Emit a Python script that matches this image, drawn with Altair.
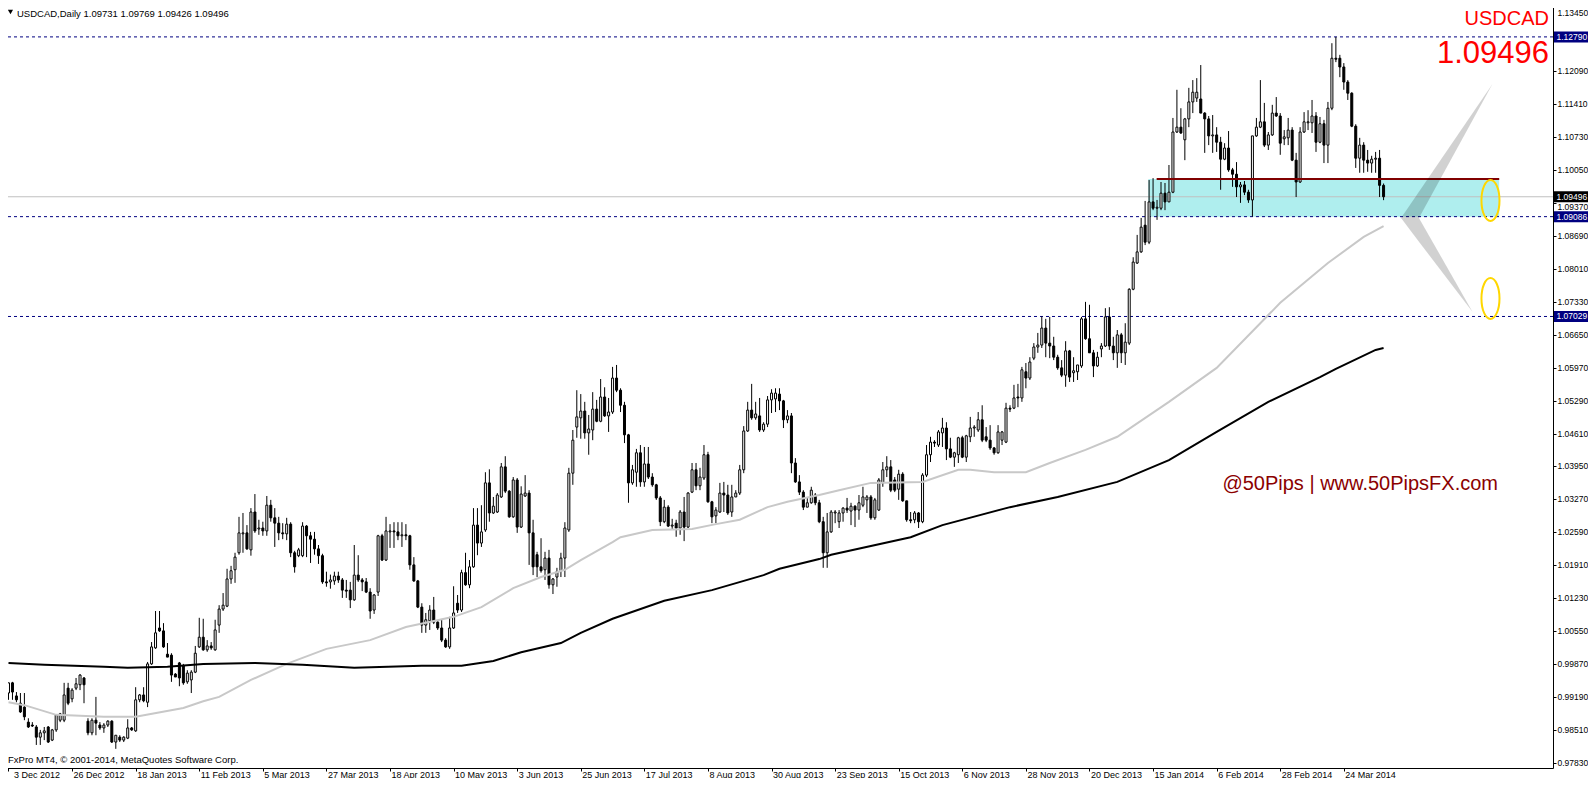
import altair as alt
import pandas as pd

# ---------------- data ----------------
OPEN = [
 .9927,.9948,.9921,.9906,.9898,.9867,.9861,.9857,.9836,.9845,
 .9857,.9830,.9851,.9871,.9871,.9937,.9915,.9937,.9944,.9958,
 .9869,.9845,.9871,.9861,.9855,.9861,.9869,.9826,.9836,.9830,
 .9834,.9855,.9849,.9913,.9923,.9908,.9987,1.0020,1.0061,1.0055,
 1.0007,1.0005,.9966,.9989,.9983,.9950,.9954,.9970,1.0022,1.0042,
 1.0016,1.0024,1.0016,1.0067,1.0100,1.0106,1.0162,1.0181,1.0216,1.0255,
 1.0257,1.0222,1.0300,1.0265,1.0267,1.0261,1.0314,1.0288,1.0277,1.0257,
 1.0255,1.0275,1.0216,1.0210,1.0210,1.0271,1.0251,1.0244,1.0224,1.0210,
 1.0156,1.0156,1.0158,1.0168,1.0160,1.0139,1.0139,1.0119,1.0170,1.0160,
 1.0156,1.0135,1.0098,1.0135,1.0251,1.0201,1.0259,1.0261,1.0259,1.0251,
 1.0253,1.0251,1.0191,1.0158,1.0104,1.0067,1.0076,1.0098,1.0073,1.0061,
 1.0036,1.0022,1.0061,1.0112,1.0098,1.0175,1.0150,1.0187,1.0273,1.0236,
 1.0263,1.0360,1.0298,1.0300,1.0331,1.0393,1.0343,1.0290,1.0366,1.0269,
 1.0333,1.0339,1.0257,1.0212,1.0187,1.0181,1.0205,1.0150,1.0166,1.0179,
 1.0205,1.0263,1.0380,1.0475,1.0494,1.0508,1.0463,1.0469,1.0512,1.0487,
 1.0537,1.0498,1.0506,1.0576,1.0551,1.0520,1.0459,1.0360,1.0382,1.0422,
 1.0362,1.0399,1.0372,1.0356,1.0329,1.0280,1.0310,1.0271,1.0277,1.0267,
 1.0300,1.0269,1.0341,1.0387,1.0354,1.0370,1.0418,1.0321,1.0292,1.0300,
 1.0339,1.0335,1.0300,1.0331,1.0339,1.0387,1.0467,1.0510,1.0494,1.0498,
 1.0469,1.0481,1.0531,1.0533,1.0543,1.0529,1.0490,1.0498,1.0401,1.0362,
 1.0341,1.0310,1.0319,1.0335,1.0319,1.0280,1.0216,1.0259,1.0298,1.0280,
 1.0298,1.0308,1.0302,1.0312,1.0304,1.0314,1.0325,1.0331,1.0288,1.0304,
 1.0360,1.0387,1.0393,1.0366,1.0347,1.0378,1.0323,1.0284,1.0284,1.0298,
 1.0280,1.0376,1.0418,1.0444,1.0438,1.0463,1.0473,1.0430,1.0413,1.0418,
 1.0453,1.0413,1.0455,1.0473,1.0469,1.0490,1.0455,1.0448,1.0432,1.0422,
 1.0448,1.0444,1.0514,1.0514,1.0537,1.0535,1.0589,1.0576,1.0617,1.0640,
 1.0644,1.0679,1.0648,1.0642,1.0619,1.0597,1.0582,1.0632,1.0587,1.0589,
 1.0601,1.0698,1.0657,1.0628,1.0601,1.0636,1.0642,1.0702,1.0642,1.0628,
 1.0665,1.0628,1.0648,1.0759,1.0813,1.0836,1.0891,1.0856,1.0939,1.0926,
 1.0926,1.0957,1.0939,1.0959,1.1083,1.1093,1.1067,1.1110,1.1145,1.1153,
 1.1151,1.1122,1.1110,1.1075,1.1077,1.1062,1.1027,1.1050,1.1005,1.0996,
 1.0970,1.0974,1.0959,1.0943,1.1075,1.1093,1.1104,1.1056,1.1077,1.1122,
 1.1116,1.1069,1.1071,1.1087,1.1025,1.0980,1.1083,1.1102,1.1102,1.1116,
 1.1062,1.1100,1.1056,1.1132,1.1235,1.1235,1.1217,1.1186,1.1163,1.1095,
 1.1029,1.1056,1.1025,1.1019,1.1027,1.1029,1.09731]
HIGH = [
 .9948,.9950,.9929,.9927,.9927,.9875,.9867,.9861,.9851,.9857,
 .9859,.9853,.9882,.9886,.9948,.9948,.9937,.9958,.9966,.9960,
 .9875,.9875,.9919,.9867,.9865,.9871,.9871,.9840,.9840,.9838,
 .9873,.9857,.9939,.9925,.9939,.9991,1.0032,1.0096,1.0096,1.0071,
 1.0030,1.0009,.9968,.9991,.9987,.9974,.9974,1.0024,1.0082,1.0080,
 1.0036,1.0032,1.0078,1.0108,1.0133,1.0183,1.0189,1.0216,1.0290,1.0298,
 1.0273,1.0308,1.0337,1.0284,1.0280,1.0333,1.0325,1.0308,1.0290,1.0277,
 1.0288,1.0279,1.0220,1.0226,1.0279,1.0273,1.0259,1.0259,1.0232,1.0214,
 1.0177,1.0171,1.0177,1.0177,1.0164,1.0160,1.0156,1.0232,1.0211,1.0164,
 1.0164,1.0143,1.0131,1.0253,1.0255,1.0290,1.0275,1.0279,1.0279,1.0279,
 1.0275,1.0253,1.0207,1.0160,1.0112,1.0092,1.0108,1.0125,1.0075,1.0078,
 1.0040,1.0084,1.0147,1.0129,1.0181,1.0216,1.0201,1.0308,1.0308,1.0314,
 1.0382,1.0388,1.0331,1.0339,1.0401,1.0415,1.0345,1.0372,1.0370,1.0353,
 1.0376,1.0345,1.0284,1.0218,1.0246,1.0218,1.0222,1.0164,1.0185,1.0216,
 1.0279,1.0391,1.0469,1.0551,1.0543,1.0527,1.0500,1.0547,1.0531,1.0574,
 1.0557,1.0535,1.0599,1.0603,1.0555,1.0527,1.0461,1.0397,1.0430,1.0438,
 1.0434,1.0434,1.0380,1.0358,1.0333,1.0325,1.0314,1.0286,1.0284,1.0304,
 1.0331,1.0341,1.0401,1.0401,1.0391,1.0438,1.0424,1.0323,1.0310,1.0360,
 1.0362,1.0356,1.0356,1.0345,1.0397,1.0477,1.0527,1.0564,1.0527,1.0535,
 1.0485,1.0539,1.0553,1.0555,1.0555,1.0531,1.0510,1.0504,1.0411,1.0376,
 1.0345,1.0331,1.0352,1.0339,1.0325,1.0290,1.0298,1.0304,1.0304,1.0304,
 1.0310,1.0329,1.0319,1.0314,1.0335,1.0352,1.0335,1.0335,1.0329,1.0370,
 1.0403,1.0415,1.0407,1.0372,1.0387,1.0382,1.0323,1.0300,1.0302,1.0300,
 1.0380,1.0438,1.0455,1.0448,1.0469,1.0494,1.0485,1.0453,1.0424,1.0455,
 1.0457,1.0459,1.0496,1.0479,1.0506,1.0520,1.0475,1.0479,1.0434,1.0479,
 1.0467,1.0525,1.0520,1.0562,1.0564,1.0599,1.0607,1.0619,1.0648,1.0669,
 1.0703,1.0698,1.0702,1.0661,1.0624,1.0613,1.0652,1.0634,1.0619,1.0603,
 1.0702,1.0733,1.0727,1.0634,1.0630,1.0648,1.0720,1.0722,1.0661,1.0675,
 1.0669,1.0689,1.0761,1.0825,1.0871,1.0906,1.0941,1.0984,1.0988,1.0943,
 1.0980,1.0978,1.1015,1.1112,1.1170,1.1132,1.1112,1.1174,1.1190,1.1194,
 1.1221,1.1124,1.1116,1.1118,1.1093,1.1073,1.1060,1.1085,1.1009,1.1021,
 1.0980,1.0982,1.0964,1.1075,1.1112,1.1190,1.1143,1.1083,1.1139,1.1155,
 1.1122,1.1087,1.1112,1.1093,1.1040,1.1093,1.1124,1.1128,1.1149,1.1124,
 1.1114,1.1108,1.1145,1.1266,1.1279,1.1242,1.1225,1.1190,1.1165,1.1099,
 1.1071,1.1062,1.1046,1.1034,1.1042,1.1046,1.09769]
LOW = [
 .9913,.9913,.9908,.9886,.9871,.9855,.9857,.9820,.9820,.9830,
 .9824,.9828,.9847,.9867,.9867,.9902,.9908,.9933,.9933,.9906,
 .9840,.9840,.9840,.9851,.9845,.9857,.9824,.9812,.9826,.9826,
 .9832,.9849,.9847,.9908,.9908,.9898,.9985,1.0018,1.0053,1.0020,
 1.0001,.9950,.9960,.9941,.9944,.9946,.9927,.9968,1.0020,1.0014,
 1.0012,1.0016,1.0014,1.0051,1.0096,1.0104,1.0152,1.0154,1.0212,1.0216,
 1.0222,1.0210,1.0257,1.0253,1.0251,1.0251,1.0280,1.0228,1.0242,1.0244,
 1.0242,1.0207,1.0175,1.0207,1.0207,1.0207,1.0195,1.0212,1.0193,1.0152,
 1.0146,1.0142,1.0150,1.0154,1.0123,1.0123,1.0102,1.0117,1.0156,1.0137,
 1.0133,1.0080,1.0090,1.0127,1.0199,1.0199,1.0226,1.0226,1.0242,1.0228,
 1.0242,1.0181,1.0156,1.0102,1.0051,1.0051,1.0057,1.0069,1.0057,1.0032,
 1.0020,1.0018,1.0059,1.0092,1.0094,1.0148,1.0143,1.0185,1.0211,1.0228,
 1.0259,1.0280,1.0296,1.0298,1.0329,1.0339,1.0288,1.0288,1.0257,1.0267,
 1.0331,1.0191,1.0170,1.0166,1.0175,1.0160,1.0142,1.0131,1.0146,1.0166,
 1.0166,1.0259,1.0356,1.0453,1.0451,1.0451,1.0418,1.0448,1.0485,1.0485,
 1.0496,1.0465,1.0502,1.0547,1.0506,1.0442,1.0319,1.0356,1.0352,1.0352,
 1.0352,1.0368,1.0352,1.0325,1.0271,1.0277,1.0269,1.0263,1.0249,1.0253,
 1.0240,1.0267,1.0339,1.0345,1.0345,1.0366,1.0319,1.0277,1.0277,1.0298,
 1.0300,1.0294,1.0290,1.0331,1.0335,1.0380,1.0465,1.0490,1.0490,1.0465,
 1.0465,1.0475,1.0504,1.0506,1.0510,1.0473,1.0483,1.0380,1.0360,1.0335,
 1.0304,1.0310,1.0317,1.0314,1.0277,1.0185,1.0185,1.0257,1.0277,1.0267,
 1.0280,1.0298,1.0273,1.0269,1.0284,1.0310,1.0298,1.0284,1.0284,1.0302,
 1.0352,1.0372,1.0341,1.0341,1.0325,1.0321,1.0280,1.0277,1.0277,1.0267,
 1.0277,1.0372,1.0403,1.0434,1.0434,1.0434,1.0407,1.0411,1.0393,1.0401,
 1.0411,1.0403,1.0444,1.0455,1.0465,1.0444,1.0444,1.0428,1.0418,1.0420,
 1.0438,1.0442,1.0506,1.0512,1.0516,1.0527,1.0555,1.0572,1.0613,1.0628,
 1.0638,1.0619,1.0617,1.0613,1.0593,1.0578,1.0558,1.0568,1.0568,1.0572,
 1.0597,1.0655,1.0628,1.0578,1.0599,1.0619,1.0640,1.0634,1.0613,1.0597,
 1.0607,1.0603,1.0644,1.0757,1.0811,1.0834,1.0850,1.0852,1.0922,1.0902,
 1.0922,1.0922,1.0939,1.0957,1.1081,1.1079,1.1025,1.1093,1.1122,1.1145,
 1.1122,1.1040,1.1056,1.1040,1.1042,1.0964,1.1025,1.1001,1.0970,1.0949,
 1.0937,1.0953,1.0937,1.09086,1.1073,1.1091,1.1052,1.1046,1.1075,1.1114,
 1.1036,1.1056,1.1056,1.1023,1.0949,1.0978,1.1081,1.1087,1.1081,1.1042,
 1.1060,1.1019,1.1019,1.1128,1.1227,1.1196,1.1170,1.1149,1.1093,1.1009,
 1.0999,1.0999,1.1001,1.0999,1.0999,1.0949,1.09426]
CLOSE = [
 .9948,.9929,.9913,.9888,.9878,.9857,.9859,.9836,.9845,.9849,
 .9826,.9851,.9882,.9884,.9923,.9906,.9933,.9946,.9964,.9944,
 .9845,.9871,.9865,.9855,.9861,.9869,.9826,.9840,.9830,.9836,
 .9855,.9851,.9913,.9923,.9911,.9987,1.0022,1.0051,1.0055,1.0022,
 1.0001,.9964,.9960,.9958,.9948,.9968,.9970,1.0009,1.0042,1.0016,
 1.0024,1.0020,1.0057,1.0100,1.0108,1.0162,1.0179,1.0207,1.0257,1.0257,
 1.0224,1.0300,1.0261,1.0267,1.0261,1.0314,1.0288,1.0277,1.0257,1.0255,
 1.0275,1.0216,1.0187,1.0222,1.0271,1.0251,1.0244,1.0224,1.0210,1.0156,
 1.0154,1.0160,1.0168,1.0160,1.0139,1.0137,1.0119,1.0170,1.0160,1.0156,
 1.0135,1.0096,1.0129,1.0251,1.0201,1.0261,1.0261,1.0259,1.0251,1.0253,
 1.0251,1.0191,1.0158,1.0104,1.0067,1.0078,1.0098,1.0073,1.0061,1.0036,
 1.0022,1.0061,1.0092,1.0098,1.0175,1.0150,1.0187,1.0273,1.0236,1.0259,
 1.0360,1.0298,1.0312,1.0335,1.0393,1.0343,1.0290,1.0366,1.0269,1.0337,
 1.0339,1.0257,1.0187,1.0187,1.0179,1.0205,1.0150,1.0162,1.0177,1.0205,
 1.0267,1.0380,1.0448,1.0496,1.0508,1.0463,1.0471,1.0512,1.0487,1.0537,
 1.0498,1.0506,1.0576,1.0551,1.0520,1.0459,1.0360,1.0387,1.0422,1.0362,
 1.0399,1.0372,1.0356,1.0329,1.0280,1.0310,1.0271,1.0273,1.0267,1.0300,
 1.0269,1.0339,1.0387,1.0354,1.0372,1.0418,1.0321,1.0290,1.0304,1.0339,
 1.0335,1.0298,1.0331,1.0339,1.0387,1.0467,1.0510,1.0494,1.0502,1.0469,
 1.0481,1.0531,1.0545,1.0545,1.0529,1.0490,1.0498,1.0401,1.0362,1.0341,
 1.0310,1.0319,1.0345,1.0319,1.0280,1.0216,1.0259,1.0300,1.0300,1.0298,
 1.0308,1.0304,1.0312,1.0304,1.0319,1.0331,1.0331,1.0288,1.0325,1.0366,
 1.0387,1.0393,1.0345,1.0345,1.0378,1.0323,1.0284,1.0282,1.0298,1.0280,
 1.0376,1.0418,1.0444,1.0442,1.0465,1.0473,1.0430,1.0413,1.0422,1.0453,
 1.0413,1.0457,1.0473,1.0475,1.0490,1.0448,1.0448,1.0432,1.0422,1.0465,
 1.0465,1.0514,1.0512,1.0535,1.0535,1.0593,1.0576,1.0609,1.0640,1.0644,
 1.0679,1.0648,1.0642,1.0619,1.0597,1.0582,1.0632,1.0578,1.0591,1.0603,
 1.0698,1.0657,1.0628,1.0601,1.0619,1.0642,1.0702,1.0642,1.0628,1.0665,
 1.0628,1.0650,1.0759,1.0815,1.0836,1.0887,1.0856,1.0939,1.0926,1.0928,
 1.0957,1.0939,1.0959,1.1083,1.1093,1.1081,1.1110,1.1145,1.1165,1.1165,
 1.1122,1.1110,1.1075,1.1077,1.1062,1.1027,1.1050,1.1005,1.0996,1.0970,
 1.0974,1.0959,1.0943,1.1075,1.1093,1.1104,1.1056,1.1077,1.1122,1.1116,
 1.1060,1.1073,1.1087,1.1025,1.0980,1.1083,1.1104,1.1104,1.1116,1.1062,
 1.1100,1.1056,1.1132,1.1235,1.1233,1.1217,1.1186,1.1163,1.1095,1.1029,
 1.1056,1.1025,1.1019,1.1027,1.1029,1.09731,1.09496]

# moving averages sampled along the drawn lines (bar index, price)
MA100_BAR = [0,4,12,24,32,44,49,53,61,70,80,91,100,112,119,127,134,140,144,152,154,
             162,172,178,184,191,196,204,209,217,230,239,242,248,256,262,271,279,292,
             304,320,332,341,346]
MA100_VAL = [.9908,.9902,.9882,.9878,.9878,.9896,.9910,.9919,.9954,.9987,1.0018,1.0036,
             1.0063,1.0084,1.0104,1.0143,1.0166,1.0181,1.0201,1.0238,1.0248,1.0263,1.0265,
             1.0275,1.0284,1.0310,1.0321,1.0335,1.0345,1.0360,1.0362,1.0387,1.0387,1.0382,
             1.0382,1.0401,1.0428,1.0455,1.0527,1.0597,1.0731,1.0813,1.0867,1.0889]
MA200_BAR = [0,9,24,30,40,49,62,74,87,104,114,122,129,139,144,152,165,177,190,194,204,
             207,227,235,252,264,279,292,304,317,330,334,344,346]
MA200_VAL = [.9989,.9985,.9981,.9979,.9981,.9987,.9989,.9985,.9979,.9983,.9983,.9993,
             1.0011,1.0030,1.0051,1.0080,1.0117,1.0139,1.0170,1.0183,1.0203,1.0212,1.0248,
             1.0273,1.0310,1.0331,1.0362,1.0407,1.0465,1.0527,1.0578,1.0595,1.0634,1.0638]

DATE_LABELS = ["3 Dec 2012", "26 Dec 2012", "18 Jan 2013", "11 Feb 2013", "5 Mar 2013",
               "27 Mar 2013", "18 Apr 2013", "10 May 2013", "3 Jun 2013", "25 Jun 2013",
               "17 Jul 2013", "8 Aug 2013", "30 Aug 2013", "23 Sep 2013", "15 Oct 2013",
               "6 Nov 2013", "28 Nov 2013", "20 Dec 2013", "15 Jan 2014", "6 Feb 2014",
               "28 Feb 2014", "24 Mar 2014"]
PRICE_TICKS = [1.1345, 1.1277, 1.1209, 1.1141, 1.1073, 1.1005, 1.0937, 1.0869, 1.0801,
               1.0733, 1.0665, 1.0597, 1.0529, 1.0461, 1.0395, 1.0327, 1.0259, 1.0191,
               1.0123, 1.0055, 0.9987, 0.9919, 0.9851, 0.9783]

LEVELS = [1.12790, 1.09086, 1.07029]     # dashed navy levels
CURRENT = 1.09496                         # last price
RESIST = 1.0986                           # dark red level / top of the zone
ZONE = [286.8, 375.1, 1.0986, 1.09086]    # bar from, bar to, price top, price bottom
RESIST_FROM = 288.9
UP_WING = {"x": [350.4, 354.9, 373.4], "top": [1.0906, 1.0960, 1.1182], "bot": [1.0906, 1.0906, 1.1182]}
DN_WING = {"x": [350.4, 354.9, 368.4], "top": [1.0906, 1.0906, 1.0712], "bot": [1.0906, 1.0857, 1.0712]}
TARGETS = {"x": [372.9, 372.9], "y": [1.0942, 1.0740]}

HEADER = "USDCAD,Daily  1.09731 1.09769 1.09426 1.09496"
FOOTER = "FxPro MT4, \u00a9 2001-2014, MetaQuotes Software Corp."

# ---------------- chart ----------------
n = len(CLOSE)
df = pd.DataFrame({"i": list(range(n)), "o": OPEN, "h": HIGH, "l": LOW, "c": CLOSE})

W, H = 1550, 766
xs = alt.Scale(domain=[-0.125, 387.375], nice=False, zero=False)
ys = alt.Scale(domain=[0.97725, 1.13509], nice=False, zero=False)
FONT = "Liberation Sans"

label_expr = "[" + ",".join("'%s'" % s for s in DATE_LABELS) + "][round(datum.value / 16)]"
x_axis = alt.Axis(values=[16 * k for k in range(len(DATE_LABELS))], labelExpr=label_expr,
                  orient="bottom", domainColor="black", domainWidth=1, tickColor="black",
                  tickSize=3, labelFont=FONT, labelFontSize=9, labelColor="black",
                  labelAlign="left", labelBaseline="top", labelPadding=-1,
                  labelOffset={"condition": {"test": "datum.value < 1", "value": 5}, "value": 1},
                  labelOverlap=False, labelFlush=False, labelBound=False, grid=False,
                  title=None)
y_axis = alt.Axis(orient="right", values=PRICE_TICKS, format=".5f", domainColor="black",
                  domainWidth=1, tickColor="black", tickSize=3, labelFont=FONT,
                  labelFontSize=8.5, labelColor="black", labelPadding=1,
                  labelOffset={"condition": [
                      {"test": "datum.value > 1.13", "value": 8},
                      {"test": "abs(datum.value - 1.0937) < 0.0001", "value": 4}],
                      "value": 0},
                  labelOverlap=False, labelFlush=False, labelBound=False, grid=False, title=None)


def X(field):
    return alt.X(field, scale=xs, axis=x_axis)


def Y(field):
    return alt.Y(field, scale=ys, axis=y_axis)


one = pd.DataFrame({"k": [0]})

zone = alt.Chart(pd.DataFrame({"x0": [ZONE[0]], "x1": [ZONE[1]], "y0": [ZONE[2]], "y1": [ZONE[3]]})).mark_rect(
    color="#AFEEEE", opacity=1).encode(x=X("x0:Q"), x2="x1:Q", y=Y("y0:Q"), y2="y1:Q")

cur_line = alt.Chart(pd.DataFrame({"p": [CURRENT]})).mark_rule(color="#C0C0C0", strokeWidth=1).encode(
    y=Y("p:Q"))

levels = alt.Chart(pd.DataFrame({"p": LEVELS})).mark_rule(
    color="#000080", strokeWidth=1, strokeDash=[3, 3]).encode(y=Y("p:Q"))

wicks = alt.Chart(df).mark_rule(color="black", strokeWidth=1).encode(
    x=X("i:Q"), y=Y("l:Q"), y2="h:Q")

bodies = alt.Chart(df).mark_bar(width=2, stroke="black", strokeWidth=1, opacity=1).encode(
    x=X("i:Q"), y=Y("o:Q"), y2="c:Q",
    fill=alt.condition("datum.c > datum.o", alt.value("white"), alt.value("black")))

ma100 = alt.Chart(pd.DataFrame({"i": MA100_BAR, "v": MA100_VAL})).mark_line(
    color="#C8C8C8", strokeWidth=2).encode(x=X("i:Q"), y=Y("v:Q"))
ma200 = alt.Chart(pd.DataFrame({"i": MA200_BAR, "v": MA200_VAL})).mark_line(
    color="black", strokeWidth=2).encode(x=X("i:Q"), y=Y("v:Q"))

resist = alt.Chart(pd.DataFrame({"x0": [RESIST_FROM], "x1": [ZONE[1]], "p": [RESIST]})).mark_rule(
    color="#800000", strokeWidth=2).encode(x=X("x0:Q"), x2="x1:Q", y=Y("p:Q"))


def wing(d):
    return alt.Chart(pd.DataFrame(d)).mark_area(color="black", opacity=0.18).encode(
        x=X("x:Q"), y=Y("top:Q"), y2="bot:Q")


ELLIPSE = "M 0 -1 A 0.44 1 0 1 1 0 1 A 0.44 1 0 1 1 0 -1 Z"
targets = alt.Chart(pd.DataFrame(TARGETS)).mark_point(
    shape=ELLIPSE, size=1681, filled=False, color="#FFD700", strokeWidth=2, opacity=1).encode(
    x=X("x:Q"), y=Y("y:Q"))


def label(text, x, y, size, color, align="left"):
    return alt.Chart(one).mark_text(text=text, font=FONT, fontSize=size, color=color,
                                    align=align, baseline="alphabetic").encode(
        x=alt.value(x), y=alt.value(y))


tri = alt.Chart(one).mark_point(shape="triangle-down", filled=True, color="black",
                                size=26, opacity=1).encode(x=alt.value(7.5), y=alt.value(10))
header = label(HEADER, 14, 14.5, 9.5, "black")
footer = label(FOOTER, 5, 761, 9.5, "black")
sym = label("USDCAD", 1546, 22.5, 20, "#FF0000", align="right")
big = label("1.09496", 1546, 61, 31, "#FF0000", align="right")
brand = label("@50Pips | www.50PipsFX.com", 1495, 488, 20, "#8B0000", align="right")

tag_df = pd.DataFrame({"p": LEVELS, "bg": ["#000080"] * len(LEVELS)})
cur_df = pd.DataFrame({"p": [CURRENT], "bg": ["#000000"]})
all_tags = pd.concat([tag_df, cur_df], ignore_index=True)
tags = alt.Chart(all_tags).mark_tick(thickness=11, size=34, opacity=1).encode(
    y=Y("p:Q"), x=alt.value(1568), color=alt.Color("bg:N", scale=None))
tag_txt = alt.Chart(all_tags).mark_text(align="left", baseline="middle", color="white",
                                        font=FONT, fontSize=8.5).encode(
    y=Y("p:Q"), x=alt.value(1553.5), text=alt.Text("p:Q", format=".5f"))

chart = alt.layer(
    zone, cur_line, levels, wicks, bodies, ma100, ma200, resist,
    wing(UP_WING), wing(DN_WING), targets,
    tri, header, footer, sym, big, brand,
    tags, tag_txt,
).properties(
    width=W, height=H,
    autosize=alt.AutoSizeParams(type="none"),
    padding={"left": -5, "top": -6, "right": 35, "bottom": 10},
).configure_view(stroke=None)

chart.save("out.html", embed_options={"renderer": "svg", "actions": False})
